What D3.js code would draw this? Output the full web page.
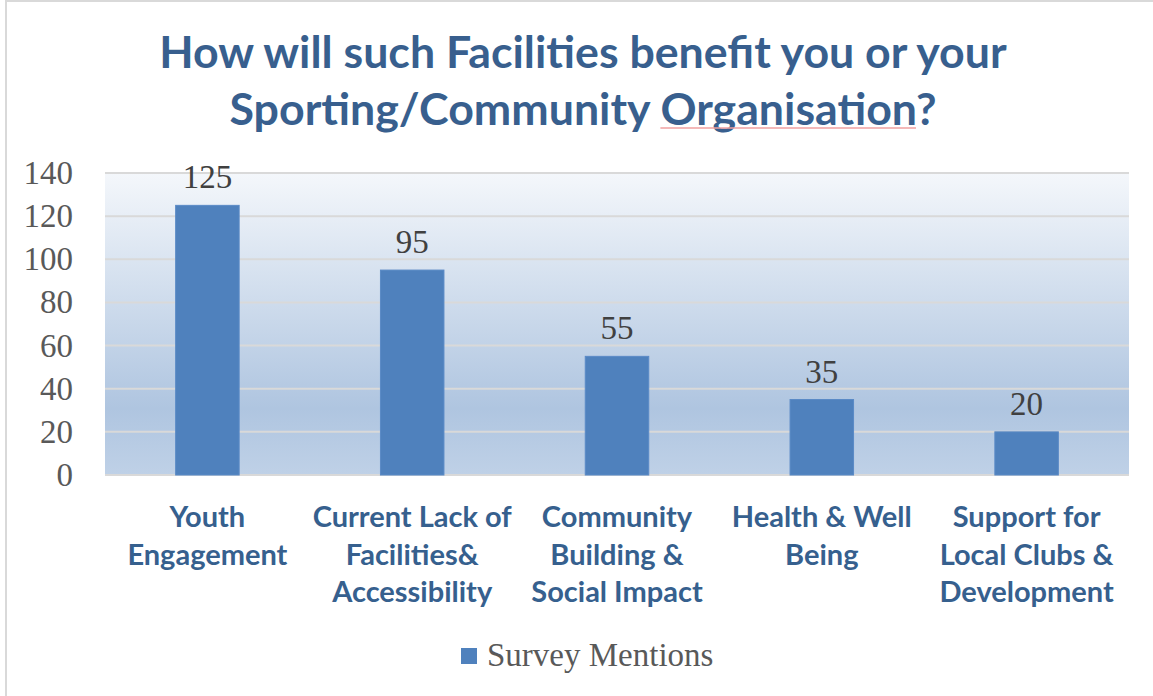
<!DOCTYPE html>
<html><head><meta charset="utf-8">
<script src="https://cdn.jsdelivr.net/npm/d3@7"></script>
<style>body{margin:0;background:#fff;}svg{display:block;}</style>
</head><body>
<svg id="chart" width="1153" height="696"></svg>
<script>
const titleLines = ["How will such Facilities benefit you or your", "Sporting/Community Organisation?"];
const categories = [
  ["Youth", "Engagement"],
  ["Current Lack of", "Facilities&", "Accessibility"],
  ["Community", "Building &", "Social Impact"],
  ["Health & Well", "Being"],
  ["Support for", "Local Clubs &", "Development"]
];
const values = [125, 95, 55, 35, 20];
const yTicks = [0, 20, 40, 60, 80, 100, 120, 140];
const seriesName = "Survey Mentions";

const svg = d3.select("#chart");
const W = 1153, H = 696;
const plot = {left: 105, right: 1129, top: 173, bottom: 475};

// border
svg.append("line").attr("x1", 6).attr("x2", 6).attr("y1", 0).attr("y2", 696).attr("stroke", "#d9d9d9").attr("stroke-width", 2);
svg.append("line").attr("x1", 5).attr("x2", W).attr("y1", 1).attr("y2", 1).attr("stroke", "#d9d9d9").attr("stroke-width", 2);

// gradient
const defs = svg.append("defs");
const grad = defs.append("linearGradient").attr("id", "bg").attr("x1", 0).attr("x2", 0).attr("y1", 0).attr("y2", 1);
grad.append("stop").attr("offset", "0%").attr("stop-color", "#f4f7fb");
grad.append("stop").attr("offset", "78%").attr("stop-color", "#afc5e0");
grad.append("stop").attr("offset", "100%").attr("stop-color", "#bfd1e7");

const x = d3.scaleBand().domain(d3.range(categories.length)).range([plot.left, plot.right]).paddingInner(0.69).paddingOuter(0.345);
const y = d3.scaleLinear().domain([0, 140]).range([plot.bottom, plot.top]);

svg.append("rect").attr("x", plot.left).attr("y", plot.top).attr("width", plot.right - plot.left).attr("height", plot.bottom - plot.top).attr("fill", "url(#bg)");

// gridlines
svg.append("g").selectAll("line").data(yTicks).join("line")
  .attr("x1", plot.left).attr("x2", plot.right)
  .attr("y1", d => y(d)).attr("y2", d => y(d))
  .attr("stroke", "#d9d9d9").attr("stroke-width", 2);

// y axis
const yAxis = svg.append("g").attr("transform", `translate(${plot.left},0)`)
  .call(d3.axisLeft(y).tickValues(yTicks).tickSize(0).tickPadding(32));
yAxis.select(".domain").remove();
yAxis.selectAll("text").attr("font-family", "'Liberation Serif', serif").attr("font-size", 33).attr("fill", "#595959").attr("dy", "0.32em");

// bars
svg.append("g").selectAll("rect").data(values).join("rect")
  .attr("x", (d, i) => x(i)).attr("width", x.bandwidth())
  .attr("y", d => y(d)).attr("height", d => y(0) - y(d))
  .attr("fill", "#4f81bd").attr("stroke", "#5a8ac6").attr("stroke-width", 1);

// data labels
svg.append("g").selectAll("text").data(values).join("text")
  .attr("x", (d, i) => x(i) + x.bandwidth() / 2).attr("y", d => y(d) - 17)
  .attr("text-anchor", "middle").attr("font-family", "'Liberation Serif', serif")
  .attr("font-size", 33).attr("fill", "#404040").text(d => d);

// category labels
const cat = svg.append("g").selectAll("text").data(categories).join("text")
  .attr("text-anchor", "middle").attr("font-family", "Lato, sans-serif").attr("font-weight", 700)
  .attr("font-size", 29).attr("fill", "#36608e");
cat.each(function(lines, i) {
  const t = d3.select(this);
  lines.forEach((ln, j) => {
    t.append("tspan").attr("x", x(i) + x.bandwidth() / 2).attr("y", 527 + j * 37.5).text(ln);
  });
});

// title
const title = svg.append("g");
const tl = titleLines.map((ln, j) => title.append("text")
  .attr("x", 583).attr("y", 68 + j * 57).attr("text-anchor", "middle")
  .attr("font-family", "Lato, sans-serif").attr("font-weight", 700).attr("font-size", 44.7)
  .attr("fill", "#385f8e").text(ln));
// spellcheck underline under "Organisation"
{
  const node = tl[1].node();
  const txt = titleLines[1];
  const idx = txt.indexOf("Organisation");
  const bb = node.getBBox();
  const start = bb.x + node.getSubStringLength(0, idx);
  const len = node.getSubStringLength(idx, "Organisation".length);
  svg.append("line").attr("x1", start).attr("x2", start + len).attr("y1", 128).attr("y2", 128)
    .attr("stroke", "#f0a0a0").attr("stroke-width", 1.3);
}

// legend
const leg = svg.append("g");
leg.append("rect").attr("x", 461).attr("y", 648).attr("width", 16).attr("height", 16).attr("fill", "#4f81bd");
leg.append("text").attr("x", 487).attr("y", 666).attr("font-family", "'Liberation Serif', serif")
  .attr("font-size", 33).attr("fill", "#595959").text(seriesName);
</script>
</body></html>
